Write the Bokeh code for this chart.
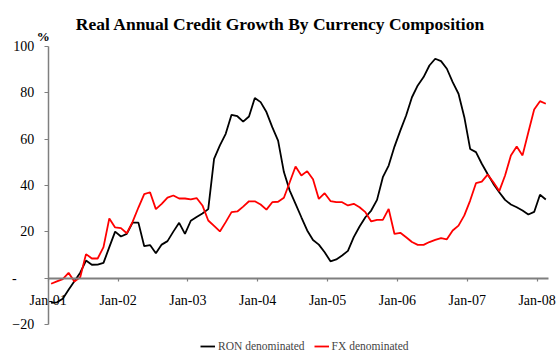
from bokeh.plotting import figure
from bokeh.models import (Range1d, LinearAxis, FixedTicker, Label, Legend, LegendItem,
                          ColumnDataSource)
from bokeh.embed import file_html
from bokeh.resources import INLINE
import pandas as pd

# ---- data -------------------------------------------------------------
months = pd.date_range("2001-01-01", periods=86, freq="MS")

ron_denominated = [
    -10.6, -10.4, -8.9, -5.0, -1.3, 2.4, 7.6, 5.8, 5.9, 6.6, 13.4, 20.1,
    18.0, 19.1, 24.0, 24.0, 13.8, 14.3, 10.8, 14.5, 16.0, 20.1, 23.9, 19.1,
    24.8, 26.4, 27.9, 29.8, 51.5, 57.3, 62.3, 70.5, 69.9, 67.6, 69.8, 77.8,
    76.0, 71.7, 65.2, 59.4, 45.8, 37.8, 32.1, 26.3, 20.6, 16.5, 14.5, 11.2,
    7.3, 8.1, 9.8, 11.8, 17.7, 22.3, 26.3, 29.2, 33.8, 43.6, 48.6, 56.8,
    63.7, 70.2, 78.1, 83.2, 86.8, 91.8, 94.7, 93.7, 90.4, 84.6, 79.6, 69.5,
    55.8, 54.4, 49.4, 45.0, 40.7, 37.1, 33.8, 31.8, 30.6, 29.2, 27.5, 28.6,
    36.0, 34.0,
]

fx_denominated = [
    -2.4, -1.4, -0.4, 2.3, -1.4, 0.4, 10.4, 8.5, 8.5, 13.4, 25.8, 21.9,
    21.6, 19.4, 24.3, 30.5, 36.3, 37.1, 29.8, 32.1, 34.8, 35.7, 34.4, 34.4,
    34.0, 34.6, 31.4, 24.9, 22.6, 20.2, 24.2, 28.5, 28.8, 30.9, 33.2, 33.2,
    31.8, 29.6, 32.8, 33.0, 34.7, 41.4, 48.2, 44.3, 46.2, 42.7, 34.2, 36.7,
    33.3, 32.8, 32.8, 31.4, 32.1, 30.6, 28.5, 24.5, 25.2, 25.2, 29.9, 19.1,
    19.6, 17.7, 15.6, 14.4, 14.4, 15.6, 16.5, 17.3, 16.8, 20.6, 22.7, 27.1,
    33.5, 41.0, 41.7, 44.7, 41.4, 37.6, 44.3, 53.0, 56.8, 53.0, 63.0, 72.8,
    76.4, 75.3,
]

x_tick_labels = ["Jan-01", "Jan-02", "Jan-03", "Jan-04", "Jan-05", "Jan-06", "Jan-07", "Jan-08"]
y_ticks = [-20, 0, 20, 40, 60, 80, 100]

# month offset from Jan-01 (points plotted mid-month)
xpos = [(d.year - 2001) * 12 + (d.month - 1) + 0.5 for d in months]
x_tick_pos = [i * 12 for i in range(len(x_tick_labels))]

FONT = "Liberation Serif"

# frame covers the whole canvas so that nothing is clipped
PX_PER_MONTH = 5.82
PX_PER_UNIT = 2.317
X0, Y0 = 47.7, 277.7   # canvas position of (Jan-01, 0)
W, H = 558, 353

p = figure(width=W, height=H, output_backend="svg", toolbar_location=None,
           x_range=Range1d(-X0 / PX_PER_MONTH, (W - X0) / PX_PER_MONTH),
           y_range=Range1d(-(H - Y0) / PX_PER_UNIT, Y0 / PX_PER_UNIT),
           x_axis_location=None, y_axis_location=None,
           min_border=0, min_border_left=0, min_border_right=0,
           min_border_top=0, min_border_bottom=0, outline_line_color=None,
           background_fill_color="white", border_fill_color="white")
p.grid.visible = False

# y axis at x = 0
ya = LinearAxis(fixed_location=0, bounds=(-20, 100))
ya.ticker = FixedTicker(ticks=y_ticks)
ya.major_label_overrides = {0: "-\u00a0\u00a0\u00a0\u00a0\u00a0"}
ya.axis_line_color = "#7f7f7f"
ya.axis_line_width = 1.5
ya.major_tick_line_color = "#7f7f7f"
ya.major_tick_line_width = 1.2
ya.major_tick_out = 4
ya.major_tick_in = 0
ya.minor_tick_line_color = None
ya.major_label_text_font = FONT
ya.major_label_text_font_size = "14px"
ya.major_label_text_color = "black"
ya.major_label_standoff = 10
p.add_layout(ya, "left")

# x axis at y = 0
xa = LinearAxis(fixed_location=0, bounds=(0, 86))
xa.ticker = FixedTicker(ticks=x_tick_pos)
xa.major_label_overrides = {t: l for t, l in zip(x_tick_pos, x_tick_labels)}
xa.axis_line_color = "#7f7f7f"
xa.axis_line_width = 2
xa.major_tick_line_color = "#7f7f7f"
xa.major_tick_line_width = 1.2
xa.major_tick_out = 3
xa.major_tick_in = 0
xa.minor_tick_line_color = None
xa.major_label_text_font = FONT
xa.major_label_text_font_size = "14px"
xa.major_label_text_color = "black"
xa.major_label_standoff = 12
p.add_layout(xa, "below")

src = ColumnDataSource(dict(x=xpos, ron=ron_denominated, fx=fx_denominated))
r_ron = p.line("x", "ron", source=src, line_color="black", line_width=1.8)
r_fx = p.line("x", "fx", source=src, line_color="#ff0000", line_width=1.8)

title = Label(x=(280 - X0) / PX_PER_MONTH, y=(Y0 - 23.5) / PX_PER_UNIT,
              text="Real Annual Credit Growth By Currency Composition",
              text_font=FONT, text_font_style="bold", text_font_size="17.5px",
              text_align="center", text_baseline="alphabetic", text_color="black")
p.add_layout(title)

pct = Label(x=(42.8 - X0) / PX_PER_MONTH, y=(Y0 - 36) / PX_PER_UNIT, text="%",
            text_font=FONT, text_font_style="bold",
            text_font_size="13px", text_align="center", text_baseline="alphabetic",
            text_color="black")
p.add_layout(pct)

legend = Legend(items=[LegendItem(label="RON denominated", renderers=[r_ron]),
                       LegendItem(label="FX denominated", renderers=[r_fx])],
                location=(200, 0), orientation="horizontal",
                label_text_font=FONT, label_text_font_size="11.5px",
                glyph_width=15, glyph_height=10, label_height=14, label_standoff=3,
                spacing=9, padding=0, margin=0, border_line_alpha=0,
                background_fill_alpha=0)
p.add_layout(legend, "center")

open("out.html", "w").write(file_html(p, INLINE))
